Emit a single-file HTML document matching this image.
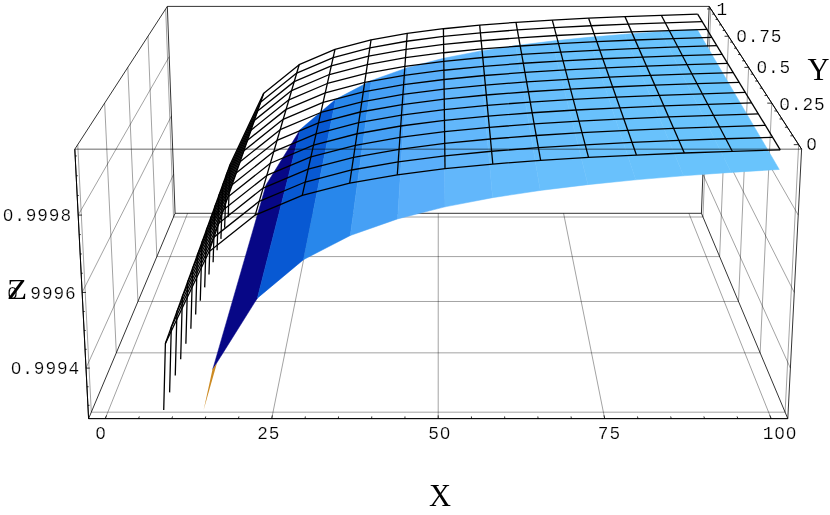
<!DOCTYPE html>
<html><head><meta charset="utf-8"><title>Plot</title>
<style>
html,body{margin:0;padding:0;background:#fff;}
svg{display:block;}
.g{stroke:#000;stroke-width:0.37;fill:none;}
.b{stroke:#000;stroke-width:0.8;fill:none;}
.f{stroke:#000;stroke-width:0.6;fill:none;}
.a{stroke:#000;stroke-width:0.95;fill:none;}
.m{stroke:#000;stroke-width:1.3;fill:none;stroke-linejoin:round;}
.t{font-family:"Liberation Mono",monospace;font-size:17.8px;fill:#000;letter-spacing:0.89px;stroke:#fff;stroke-width:0.2px;}
.s{font-family:"Liberation Serif",serif;font-size:30.5px;fill:#000;}
</style></head><body>
<svg width="830" height="515" viewBox="0 0 830 515">
<defs><filter id="gs" filterUnits="userSpaceOnUse" x="0" y="0" width="830" height="515" color-interpolation-filters="sRGB"><feColorMatrix type="saturate" values="0"/></filter></defs>
<rect width="830" height="515" fill="#fff"/>
<line class="g" x1="105.24" y1="418.62" x2="187.61" y2="213.31"/>
<line class="g" x1="271.72" y1="418.62" x2="312.93" y2="213.31"/>
<line class="g" x1="438.20" y1="418.62" x2="438.25" y2="213.31"/>
<line class="g" x1="604.68" y1="418.62" x2="563.57" y2="213.31"/>
<line class="g" x1="771.16" y1="418.62" x2="688.89" y2="213.31"/>
<line class="g" x1="91.31" y1="412.18" x2="785.10" y2="412.18"/>
<line class="g" x1="116.30" y1="352.85" x2="760.13" y2="352.85"/>
<line class="g" x1="137.94" y1="301.48" x2="738.52" y2="301.48"/>
<line class="g" x1="156.85" y1="256.59" x2="719.63" y2="256.59"/>
<line class="g" x1="173.52" y1="217.01" x2="702.98" y2="217.01"/>
<line class="g" x1="91.31" y1="412.18" x2="77.74" y2="144.65"/>
<line class="g" x1="116.30" y1="352.85" x2="104.65" y2="103.13"/>
<line class="g" x1="137.94" y1="301.48" x2="127.82" y2="67.37"/>
<line class="g" x1="156.85" y1="256.59" x2="147.99" y2="36.26"/>
<line class="g" x1="173.52" y1="217.01" x2="165.69" y2="8.95"/>
<line class="g" x1="86.01" y1="368.10" x2="173.62" y2="174.21"/>
<line class="g" x1="82.13" y1="292.44" x2="171.44" y2="115.91"/>
<line class="g" x1="78.18" y1="215.09" x2="169.22" y2="56.64"/>
<line class="g" x1="785.10" y1="412.18" x2="798.67" y2="144.65"/>
<line class="g" x1="760.13" y1="352.85" x2="771.78" y2="103.13"/>
<line class="g" x1="738.52" y1="301.48" x2="748.64" y2="67.37"/>
<line class="g" x1="719.63" y1="256.59" x2="728.49" y2="36.26"/>
<line class="g" x1="702.98" y1="217.01" x2="710.81" y2="8.95"/>
<line class="g" x1="790.39" y1="368.10" x2="702.88" y2="174.21"/>
<line class="g" x1="794.27" y1="292.44" x2="705.06" y2="115.91"/>
<line class="g" x1="798.22" y1="215.09" x2="707.28" y2="56.64"/>
<line class="b" x1="175.08" y1="213.31" x2="701.42" y2="213.31"/>
<line class="b" x1="175.08" y1="213.31" x2="167.34" y2="6.40"/>
<line class="b" x1="701.42" y1="213.31" x2="709.16" y2="6.40"/>
<line class="b" x1="167.34" y1="6.40" x2="709.16" y2="6.40"/>
<line class="b" x1="88.59" y1="418.62" x2="175.08" y2="213.31"/>
<line class="b" x1="787.81" y1="418.62" x2="701.42" y2="213.31"/>
<line class="b" x1="74.80" y1="149.17" x2="167.34" y2="6.40"/>
<line class="b" x1="801.60" y1="149.17" x2="709.16" y2="6.40"/>
<line class="b" x1="88.59" y1="418.62" x2="787.81" y2="418.62"/>
<line class="b" x1="88.59" y1="418.62" x2="74.80" y2="149.17"/>
<line class="b" x1="787.81" y1="418.62" x2="801.60" y2="149.17"/>
<polygon fill="#070786" stroke="#070786" stroke-width="0.5" points="212.81,369.19 257.36,298.13 300.40,129.37 266.02,184.98"/>
<polygon fill="#0859d3" stroke="#0859d3" stroke-width="0.5" points="257.36,298.13 303.51,259.63 335.71,99.35 300.40,129.37"/>
<polygon fill="#2887eb" stroke="#2887eb" stroke-width="0.5" points="303.51,259.63 350.35,235.48 371.42,80.56 335.71,99.35"/>
<polygon fill="#46a0f5" stroke="#46a0f5" stroke-width="0.5" points="350.35,235.48 397.56,218.92 407.35,67.69 371.42,80.56"/>
<polygon fill="#5aaffa" stroke="#5aaffa" stroke-width="0.5" points="397.56,218.92 444.99,206.86 443.41,58.32 407.35,67.69"/>
<polygon fill="#62b7fb" stroke="#62b7fb" stroke-width="0.5" points="444.99,206.86 492.56,197.68 479.54,51.20 443.41,58.32"/>
<polygon fill="#66bcfc" stroke="#66bcfc" stroke-width="0.5" points="492.56,197.68 540.22,190.46 515.73,45.61 479.54,51.20"/>
<polygon fill="#68bffc" stroke="#68bffc" stroke-width="0.5" points="540.22,190.46 587.96,184.63 551.96,41.09 515.73,45.61"/>
<polygon fill="#69c1fc" stroke="#69c1fc" stroke-width="0.5" points="587.96,184.63 635.74,179.83 588.22,37.37 551.96,41.09"/>
<polygon fill="#69c2fc" stroke="#69c2fc" stroke-width="0.5" points="635.74,179.83 683.56,175.81 624.50,34.26 588.22,37.37"/>
<polygon fill="#69c3fc" stroke="#69c3fc" stroke-width="0.5" points="683.56,175.81 731.41,172.38 660.80,31.61 624.50,34.26"/>
<polygon fill="#69c4fc" stroke="#69c4fc" stroke-width="0.5" points="731.41,172.38 779.28,169.44 697.11,29.33 660.80,31.61"/>
<polygon fill="#cc8a22" points="203.61,409.99 212.51,369.19 216.90,363.15"/>
<polyline class="m"  points="163.73,409.99 165.39,343.42 208.96,251.67 255.21,215.10 302.27,195.44 349.69,183.17 397.30,174.77 445.02,168.67 492.82,164.03 540.66,160.39 588.53,157.45 636.43,155.04 684.35,153.01 732.28,151.29 780.23,149.81"/>
<polyline class="m"  points="169.62,392.36 171.30,327.06 213.99,237.12 259.24,201.28 305.28,182.02 351.66,169.99 398.21,161.77 444.88,155.79 491.61,151.25 538.39,147.68 585.20,144.80 632.03,142.44 678.88,140.45 725.75,138.77 772.63,137.31"/>
<polyline class="m"  points="175.27,375.48 176.96,311.41 218.81,223.19 263.11,188.06 308.16,169.18 353.54,157.39 399.09,149.33 444.74,143.47 490.45,139.02 536.21,135.52 582.01,132.71 627.82,130.38 673.65,128.44 719.50,126.79 765.35,125.37"/>
<polyline class="m"  points="180.68,359.29 182.38,296.40 223.42,209.85 266.81,175.39 310.92,156.88 355.34,145.32 399.92,137.42 444.60,131.68 489.35,127.31 534.13,123.88 578.95,121.12 623.79,118.85 668.64,116.94 713.51,115.32 758.39,113.93"/>
<polyline class="m"  points="185.87,343.75 187.59,282.00 227.85,197.06 270.36,163.25 313.56,145.09 357.06,133.75 400.72,126.00 444.47,120.37 488.29,116.09 532.14,112.73 576.02,110.02 619.93,107.79 663.84,105.92 707.78,104.33 751.72,102.96"/>
<polyline class="m"  points="190.86,328.83 192.59,268.18 232.09,184.78 273.76,151.60 316.09,133.78 358.71,122.66 401.49,115.05 444.35,109.53 487.27,105.33 530.23,102.03 573.21,99.37 616.22,97.18 659.24,95.35 702.27,93.79 745.32,92.45"/>
<polyline class="m"  points="195.66,314.48 197.39,254.89 236.17,172.99 277.03,140.42 318.53,122.92 360.30,112.00 402.22,104.54 444.23,99.11 486.29,94.99 528.39,91.76 570.52,89.15 612.66,87.00 654.82,85.20 696.99,83.67 739.17,82.35"/>
<polyline class="m"  points="200.27,300.68 202.01,242.12 240.09,161.66 280.17,129.67 320.87,112.49 361.83,101.77 402.93,94.44 444.12,89.11 485.35,85.07 526.63,81.89 567.93,79.33 609.24,77.22 650.58,75.45 691.92,73.95 733.27,72.66"/>
<polyline class="m"  points="204.71,287.39 206.45,229.82 243.86,150.75 283.19,119.33 323.12,102.45 363.30,91.92 403.61,84.72 444.01,79.49 484.45,75.52 524.93,72.40 565.44,69.88 605.96,67.81 646.49,66.08 687.04,64.60 727.59,63.33"/>
<polyline class="m"  points="208.99,274.59 210.73,217.98 247.49,140.26 286.10,109.37 325.28,92.79 364.71,82.44 404.27,75.37 443.90,70.23 483.58,66.33 523.30,63.27 563.04,60.79 602.80,58.76 642.57,57.05 682.35,55.61 722.13,54.36"/>
<polyline class="m"  points="213.11,262.26 214.86,206.57 250.99,130.14 288.90,99.79 327.37,83.49 366.07,73.32 404.90,66.37 443.80,61.32 482.75,57.48 521.73,54.47 560.73,52.04 599.75,50.04 638.78,48.37 677.83,46.95 716.87,45.72"/>
<polyline class="m"  points="217.09,250.35 218.84,195.56 254.36,120.40 291.60,90.55 329.38,74.52 367.38,64.53 405.51,57.69 443.70,52.73 481.94,48.96 520.21,46.00 558.51,43.61 596.82,41.64 635.14,40.00 673.47,38.60 711.81,37.40"/>
<polyline class="m"  points="220.93,238.86 222.67,184.94 257.61,110.99 294.21,81.63 331.32,65.87 368.65,56.04 406.09,49.33 443.61,44.44 481.16,40.74 518.75,37.83 556.36,35.48 593.99,33.55 631.62,31.93 669.27,30.55 706.92,29.37"/>
<polyline class="m"  points="224.64,227.76 226.38,174.69 260.75,101.92 296.72,73.03 333.19,57.53 369.87,47.86 406.66,41.25 443.52,36.45 480.42,32.80 517.34,29.94 554.29,27.63 591.26,25.73 628.23,24.14 665.22,22.79 702.21,21.62"/>
<polyline class="m"  points="228.22,217.04 229.96,164.78 263.78,93.15 299.15,64.72 334.99,49.47 371.04,39.96 407.20,33.46 443.43,28.73 479.69,25.14 515.98,22.33 552.29,20.06 588.62,18.19 624.96,16.62 661.30,15.29 697.65,14.14"/>
<line class="m" x1="165.39" y1="343.42" x2="229.96" y2="164.78"/>
<line class="m" x1="208.96" y1="251.67" x2="263.78" y2="93.15"/>
<line class="m" x1="255.21" y1="215.10" x2="299.15" y2="64.72"/>
<line class="m" x1="302.27" y1="195.44" x2="334.99" y2="49.47"/>
<line class="m" x1="349.69" y1="183.17" x2="371.04" y2="39.96"/>
<line class="m" x1="397.30" y1="174.77" x2="407.20" y2="33.46"/>
<line class="m" x1="445.02" y1="168.67" x2="443.43" y2="28.73"/>
<line class="m" x1="492.82" y1="164.03" x2="479.69" y2="25.14"/>
<line class="m" x1="540.66" y1="160.39" x2="515.98" y2="22.33"/>
<line class="m" x1="588.53" y1="157.45" x2="552.29" y2="20.06"/>
<line class="m" x1="636.43" y1="155.04" x2="588.62" y2="18.19"/>
<line class="m" x1="684.35" y1="153.01" x2="624.96" y2="16.62"/>
<line class="m" x1="732.28" y1="151.29" x2="661.30" y2="15.29"/>
<line class="m" x1="780.23" y1="149.81" x2="697.65" y2="14.14"/>
<polygon fill="#000" fill-opacity="0.5" points="192.59,268.18 232.09,184.78 263.78,93.15 229.96,164.78"/>
<line class="f" x1="74.80" y1="149.17" x2="801.60" y2="149.17"/>
<line class="a" x1="88.59" y1="418.62" x2="787.81" y2="418.62"/>
<line class="a" x1="88.59" y1="418.62" x2="74.80" y2="149.17"/>
<line class="a" x1="801.60" y1="149.17" x2="709.16" y2="6.40"/>
<line class="b" x1="105.24" y1="418.62" x2="106.55" y2="415.36"/>
<line class="b" x1="138.54" y1="418.62" x2="139.32" y2="416.45"/>
<line class="b" x1="171.83" y1="418.62" x2="172.53" y2="416.45"/>
<line class="b" x1="205.13" y1="418.62" x2="205.74" y2="416.45"/>
<line class="b" x1="238.42" y1="418.62" x2="238.95" y2="416.45"/>
<line class="b" x1="271.72" y1="418.62" x2="272.37" y2="415.36"/>
<line class="b" x1="305.02" y1="418.62" x2="305.37" y2="416.45"/>
<line class="b" x1="338.31" y1="418.62" x2="338.57" y2="416.45"/>
<line class="b" x1="371.61" y1="418.62" x2="371.78" y2="416.45"/>
<line class="b" x1="404.90" y1="418.62" x2="404.99" y2="416.45"/>
<line class="b" x1="438.20" y1="418.62" x2="438.20" y2="415.36"/>
<line class="b" x1="471.50" y1="418.62" x2="471.41" y2="416.45"/>
<line class="b" x1="504.79" y1="418.62" x2="504.62" y2="416.45"/>
<line class="b" x1="538.09" y1="418.62" x2="537.83" y2="416.45"/>
<line class="b" x1="571.38" y1="418.62" x2="571.04" y2="416.45"/>
<line class="b" x1="604.68" y1="418.62" x2="604.03" y2="415.36"/>
<line class="b" x1="637.98" y1="418.62" x2="637.45" y2="416.45"/>
<line class="b" x1="671.27" y1="418.62" x2="670.66" y2="416.45"/>
<line class="b" x1="704.57" y1="418.62" x2="703.87" y2="416.45"/>
<line class="b" x1="737.86" y1="418.62" x2="737.08" y2="416.45"/>
<line class="b" x1="771.16" y1="418.62" x2="769.85" y2="415.36"/>
<line class="b" x1="798.67" y1="144.65" x2="793.76" y2="144.65"/>
<line class="b" x1="792.95" y1="135.82" x2="790.39" y2="135.82"/>
<line class="b" x1="787.41" y1="127.26" x2="784.90" y2="127.26"/>
<line class="b" x1="782.04" y1="118.97" x2="779.57" y2="118.97"/>
<line class="b" x1="776.84" y1="110.93" x2="774.40" y2="110.93"/>
<line class="b" x1="771.78" y1="103.13" x2="767.25" y2="103.13"/>
<line class="b" x1="766.88" y1="95.56" x2="764.52" y2="95.56"/>
<line class="b" x1="762.12" y1="88.20" x2="759.79" y2="88.20"/>
<line class="b" x1="757.50" y1="81.06" x2="755.20" y2="81.06"/>
<line class="b" x1="753.00" y1="74.12" x2="750.74" y2="74.12"/>
<line class="b" x1="748.64" y1="67.37" x2="744.41" y2="67.37"/>
<line class="b" x1="744.39" y1="60.81" x2="742.18" y2="60.81"/>
<line class="b" x1="740.25" y1="54.43" x2="738.08" y2="54.43"/>
<line class="b" x1="736.23" y1="48.21" x2="734.08" y2="48.21"/>
<line class="b" x1="732.31" y1="42.16" x2="730.19" y2="42.16"/>
<line class="b" x1="728.49" y1="36.26" x2="724.55" y2="36.26"/>
<line class="b" x1="724.77" y1="30.52" x2="722.71" y2="30.52"/>
<line class="b" x1="721.15" y1="24.92" x2="719.11" y2="24.92"/>
<line class="b" x1="717.62" y1="19.46" x2="715.60" y2="19.46"/>
<line class="b" x1="714.17" y1="14.14" x2="712.18" y2="14.14"/>
<line class="b" x1="710.81" y1="8.95" x2="707.10" y2="8.95"/>
<line class="b" x1="87.91" y1="405.32" x2="89.51" y2="405.32"/>
<line class="b" x1="86.96" y1="386.76" x2="88.56" y2="386.76"/>
<line class="b" x1="86.01" y1="368.10" x2="89.81" y2="368.10"/>
<line class="b" x1="85.05" y1="349.34" x2="86.65" y2="349.34"/>
<line class="b" x1="84.08" y1="330.48" x2="85.68" y2="330.48"/>
<line class="b" x1="83.11" y1="311.51" x2="84.71" y2="311.51"/>
<line class="b" x1="82.13" y1="292.44" x2="85.93" y2="292.44"/>
<line class="b" x1="81.15" y1="273.26" x2="82.75" y2="273.26"/>
<line class="b" x1="80.17" y1="253.98" x2="81.77" y2="253.98"/>
<line class="b" x1="79.17" y1="234.59" x2="80.77" y2="234.59"/>
<line class="b" x1="78.18" y1="215.09" x2="81.98" y2="215.09"/>
<line class="b" x1="77.17" y1="195.48" x2="78.77" y2="195.48"/>
<line class="b" x1="76.16" y1="175.76" x2="77.76" y2="175.76"/>
<line class="b" x1="75.15" y1="155.94" x2="76.75" y2="155.94"/>
<g filter="url(#gs)">
<text class="t" x="101.0" y="439.2" text-anchor="middle">0</text><circle cx="100.56" cy="433.05" r="1.75" fill="#fff"/>
<text class="t" x="268.7" y="439.2" text-anchor="middle">25</text>
<text class="t" x="439.7" y="439.2" text-anchor="middle">50</text><circle cx="445.04" cy="433.05" r="1.75" fill="#fff"/>
<text class="t" x="609.4" y="439.2" text-anchor="middle">75</text>
<text class="t" x="780.0" y="439.2" text-anchor="middle">100</text><circle cx="779.56" cy="433.05" r="1.75" fill="#fff"/><circle cx="791.12" cy="433.05" r="1.75" fill="#fff"/>
<text class="t" x="72.0" y="221.3" text-anchor="end">0.9998</text><circle cx="7.92" cy="215.15" r="1.75" fill="#fff"/>
<text class="t" x="76.6" y="298.5" text-anchor="end">0.9996</text><circle cx="12.52" cy="292.35" r="1.75" fill="#fff"/>
<text class="t" x="80.1" y="374.2" text-anchor="end">0.9994</text><circle cx="16.02" cy="368.05" r="1.75" fill="#fff"/>
<text class="t" x="716.4" y="15.0" text-anchor="start">1</text>
<text class="t" x="736.2" y="42.4" text-anchor="start">0.75</text><circle cx="741.54" cy="36.25" r="1.75" fill="#fff"/>
<text class="t" x="756.4" y="73.3" text-anchor="start">0.5</text><circle cx="761.74" cy="67.15" r="1.75" fill="#fff"/>
<text class="t" x="779.3" y="109.5" text-anchor="start">0.25</text><circle cx="784.64" cy="103.35" r="1.75" fill="#fff"/>
<text class="t" x="806.3" y="150.2" text-anchor="start">0</text><circle cx="811.64" cy="144.05" r="1.75" fill="#fff"/>
<text class="s" x="440.0" y="505.8" text-anchor="middle">X</text>
<text class="s" x="818.6" y="79.6" text-anchor="middle">Y</text>
<text class="s" text-anchor="middle" transform="translate(17.0,299.0) scale(1.08,0.965)">Z</text>
</g>
</svg></body></html>
